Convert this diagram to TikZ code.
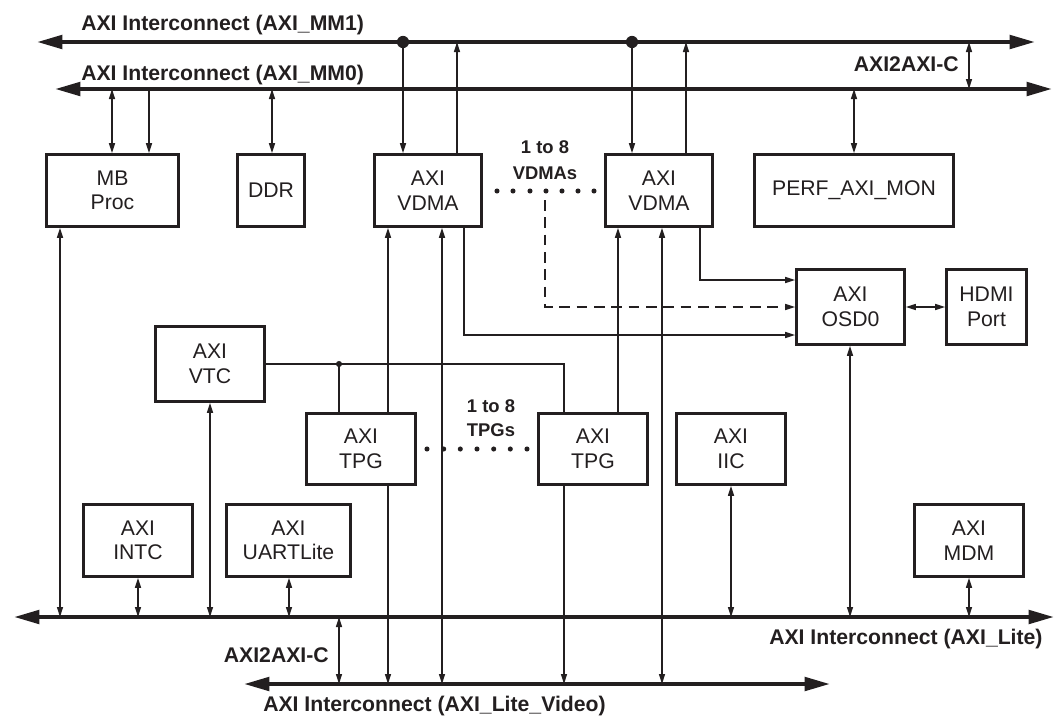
\documentclass[tikz,border=0pt]{standalone}
\usepackage{fontspec}
\setmainfont{Liberation Sans}
\usetikzlibrary{arrows.meta}
\definecolor{ink}{RGB}{35,31,32}
\begin{document}
\begin{tikzpicture}[x=0.75pt,y=-0.75pt,
  box/.style={draw=ink,line width=2pt,inner sep=0pt,align=center,text=ink,font=\fontsize{15.9pt}{18.4pt}\selectfont},
  bx/.style 2 args={box,minimum width=#1*0.75pt,minimum height=#2*0.75pt},
  lbl/.style={inner sep=0pt,text=ink,font=\bfseries\fontsize{15.9pt}{18pt}\selectfont},
  note/.style={inner sep=0pt,text=ink,align=center,font=\bfseries\fontsize{13.8pt}{19pt}\selectfont},
  conn/.style={draw=ink,line width=1pt},
  ar/.style={conn,-{Triangle[length=7.5pt,width=4.5pt]}},
  dar/.style={conn,{Triangle[length=7.5pt,width=4.5pt]}-{Triangle[length=7.5pt,width=4.5pt]}},
  bus/.style={draw=ink,line width=3pt,{Triangle[length=19pt,width=10pt]}-{Triangle[length=19pt,width=10pt]}},
  dsh/.style={ar,dash pattern=on 8pt off 5pt},
]
\fill[white] (0,0) rectangle (1057,715);
\useasboundingbox (0,0) rectangle (1057,715);

% boxes
\node[bx={132}{72}] (mb) at (112.5,190.5) {MB\\Proc};
\node[bx={67}{72}] (ddr) at (271,190.5) {DDR};
\node[bx={107}{72}] (vdma1) at (428,190.5) {AXI\\VDMA};
\node[bx={107}{72}] (vdma2) at (659,190.5) {AXI\\VDMA};
\node[bx={199}{72}] (perf) at (854,190.5) {PERF\_AXI\_MON};
\node[bx={108}{75}] (osd) at (850.5,307) {AXI\\OSD0};
\node[bx={80}{75}] (hdmi) at (986.5,307) {HDMI\\Port};
\node[bx={109}{75}] (vtc) at (210,364) {AXI\\VTC};
\node[bx={109}{71}] (tpg1) at (361,449) {AXI\\TPG};
\node[bx={109}{71}] (tpg2) at (593,449) {AXI\\TPG};
\node[bx={109}{71}] (iic) at (731,449) {AXI\\IIC};
\node[bx={109}{72}] (intc) at (138,540.5) {AXI\\INTC};
\node[bx={124}{72}] (uart) at (288.5,540.5) {AXI\\UARTLite};
\node[bx={109}{72}] (mdm) at (969,540.5) {AXI\\MDM};

% buses
\coordinate (mm1L) at (37,42);  \coordinate (mm1R) at (1035,42);
\coordinate (mm0L) at (55,89);  \coordinate (mm0R) at (1052,89);
\coordinate (liteL) at (14,617); \coordinate (liteR) at (1054,617);
\coordinate (lvL) at (244,684); \coordinate (lvR) at (830,684);
\draw[bus] (mm1L) -- (mm1R);
\draw[bus] (mm0L) -- (mm0R);
\draw[bus] (liteL) -- (liteR);
\draw[bus] (lvL) -- (lvR);

% bus labels
\node[lbl,anchor=base west] (t1) at (81,30) {AXI Interconnect (AXI\_MM1)};
\node[lbl,anchor=base west] (t2) at (81,80) {AXI Interconnect (AXI\_MM0)};
\node[lbl,anchor=base east] (t3) at (959,71.5) {AXI2AXI-C};
\node[lbl,anchor=base east] (t4) at (329,662.5) {AXI2AXI-C};
\node[lbl,anchor=base west] (t5) at (769,644.5) {AXI Interconnect (AXI\_Lite)};
\node[lbl,anchor=base west] (t6) at (263,711) {AXI Interconnect (AXI\_Lite\_Video)};

% top connectors
\coordinate (b1) at (112,89); \coordinate (b2) at (149,89); \coordinate (b3) at (272,89);
\coordinate (d1) at (403,42); \coordinate (b4) at (457,42);
\coordinate (d2) at (632,42); \coordinate (b5) at (686,42);
\coordinate (b6) at (854,89);
\coordinate (a2a1) at (969,42); \coordinate (a2a2) at (969,89);
\draw[dar] (b1) -- (mb.north -| b1);
\draw[ar] (b2) -- (mb.north -| b2);
\draw[dar] (b3) -- (ddr.north -| b3);
\draw[ar] (d1) -- (vdma1.north -| d1);
\draw[ar] (vdma1.north -| b4) -- (b4);
\draw[ar] (d2) -- (vdma2.north -| d2);
\draw[ar] (vdma2.north -| b5) -- (b5);
\draw[dar] (b6) -- (perf.north -| b6);
\draw[dar] (a2a1) -- (a2a2);
\fill[ink] (d1) circle (4.6pt);
\fill[ink] (d2) circle (4.6pt);

% VDMA multiplicity
\node[note] (n1) at (545,160) {1 to 8\\VDMAs};
\foreach \x in {497,513,530,546,562,578,594} \fill[ink] (\x,191) circle (1.9pt);

% to OSD
\coordinate (c1) at (464,335);
\coordinate (c2) at (700,280);
\coordinate (c3) at (545,200); \coordinate (c4) at (545,307);
\draw[ar] (vdma1.south -| c1) -- (c1) -- (osd.west |- c1);
\draw[ar] (vdma2.south -| c2) -- (c2) -- (osd.west |- c2);
\draw[dsh] (c3) -- (c4) -- (osd.west |- c4);
\draw[dar] (osd.east) -- (hdmi.west);

% VTC
\coordinate (j1) at (339,364); \coordinate (c5) at (564,364);
\draw[conn] (vtc.east) -- (c5) -- (tpg2.north -| c5);
\draw[conn] (j1) -- (tpg1.north -| j1);
\fill[ink] (j1) circle (2.3pt);

% TPG multiplicity
\node[note,font=\bfseries\fontsize{13.8pt}{18pt}\selectfont] (n2) at (491,418) {1 to 8\\TPGs};
\foreach \x in {427,443.7,460.3,477,493.7,510.3,527} \fill[ink] (\x,449) circle (1.9pt);

% TPG to VDMA
\coordinate (v1) at (388,684); \coordinate (v2) at (442,684);
\coordinate (v3) at (564,684); \coordinate (v4) at (662,684);
\coordinate (t2u) at (618,412);
\draw[ar] (tpg1.north -| v1) -- (vdma1.south -| v1);
\draw[ar] (tpg2.north -| t2u) -- (vdma2.south -| t2u);

% Lite video bus connectors
\draw[ar] (tpg1.south -| v1) -- (v1);
\draw[dar] (vdma1.south -| v2) -- (v2);
\draw[ar] (tpg2.south -| v3) -- (v3);
\draw[dar] (vdma2.south -| v4) -- (v4);

% Lite bus connectors
\coordinate (l1) at (60,617); \coordinate (l2) at (138,617); \coordinate (l3) at (210,617);
\coordinate (l4) at (289,617); \coordinate (l5) at (731,617); \coordinate (l6) at (850,617);
\coordinate (l7) at (969,617);
\coordinate (a2b1) at (339,617); \coordinate (a2b2) at (339,684);
\draw[dar] (mb.south -| l1) -- (l1);
\draw[dar] (intc.south -| l2) -- (l2);
\draw[dar] (vtc.south -| l3) -- (l3);
\draw[dar] (uart.south -| l4) -- (l4);
\draw[dar] (iic.south -| l5) -- (l5);
\draw[dar] (osd.south -| l6) -- (l6);
\draw[dar] (mdm.south -| l7) -- (l7);
\draw[dar] (a2b1) -- (a2b2);
\end{tikzpicture}
\end{document}
